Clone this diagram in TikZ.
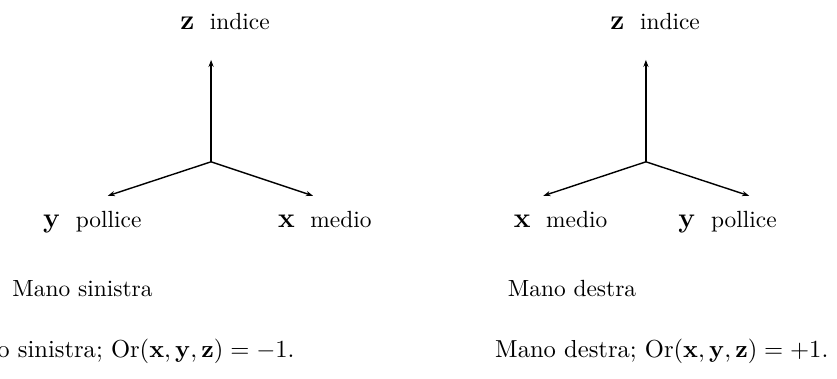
\documentclass[tikz,border=0pt]{standalone}
\usetikzlibrary{arrows.meta}

\newcommand{\vett}[1]{{\large$\mathbf{#1}$}}

\begin{document}
\begin{tikzpicture}[
    axis/.style={line width=0.6pt, -{Stealth[length=3pt,width=2.2pt]}},
    lbl/.style={anchor=base west, inner sep=0pt},
    didascalia/.style={lbl, scale=1.05, transform shape},
  ]
        \useasboundingbox (0,0) rectangle (12.57,5.69);
        % mano sinistra
        \coordinate (o1) at (3.17,3.26);
        \coordinate (z1) at (3.17,4.79);
        \coordinate (y1) at (1.62,2.75);
        \coordinate (x1) at (4.70,2.75);
        \draw[axis] (o1) -- (z1);
        \draw[axis] (o1) -- (y1);
        \draw[axis] (o1) -- (x1);
        \node[lbl] (zlab1) at (2.70,5.24) {\vett{z}\ \ indice};
        \node[lbl] (ylab1) at (0.64,2.28) {\vett{y}\ \ pollice};
        \node[lbl] (xlab1) at (4.17,2.28) {\vett{x}\ \ medio};
        \node[lbl] (nome1) at (0.18,1.23) {Mano sinistra};
        \node[didascalia, anchor=base east] (or1) at (4.43,0.32) {Mano sinistra; $\mathrm{Or}(\mathbf{x},\mathbf{y},\mathbf{z})=-1$.};
        % mano destra
        \coordinate (o2) at (9.70,3.26);
        \coordinate (z2) at (9.70,4.79);
        \coordinate (x2) at (8.16,2.75);
        \coordinate (y2) at (11.25,2.75);
        \draw[axis] (o2) -- (z2);
        \draw[axis] (o2) -- (x2);
        \draw[axis] (o2) -- (y2);
        \node[lbl] (zlab2) at (9.16,5.24) {\vett{z}\ \ indice};
        \node[lbl] (xlab2) at (7.71,2.28) {\vett{x}\ \ medio};
        \node[lbl] (ylab2) at (10.18,2.28) {\vett{y}\ \ pollice};
        \node[lbl] (nome2) at (7.62,1.23) {Mano destra};
        \node[didascalia] (or2) at (7.43,0.32) {Mano destra; $\mathrm{Or}(\mathbf{x},\mathbf{y},\mathbf{z})=+1$.};
    \end{tikzpicture}
\end{document}
